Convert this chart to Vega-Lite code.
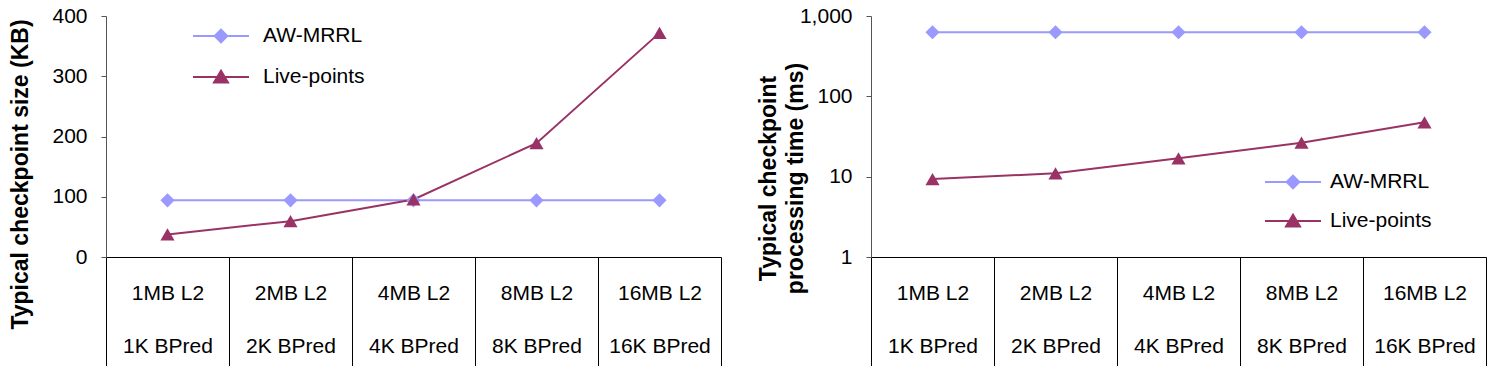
{
  "$schema": "https://vega.github.io/schema/vega-lite/v6.json",
  "padding": {"left": 8, "top": 5, "right": 0, "bottom": 0},
  "background": "white",
  "config": {
    "font": "Liberation Sans",
    "view": {"stroke": null},
    "axis": {"grid": false, "labelColor": "#000", "titleColor": "#000"}
  },
  "data": {
    "values": [
      {"config": "1MB L2|1K BPred", "series": "AW-MRRL", "size": 94, "time": 627},
      {"config": "2MB L2|2K BPred", "series": "AW-MRRL", "size": 94, "time": 627},
      {"config": "4MB L2|4K BPred", "series": "AW-MRRL", "size": 94, "time": 627},
      {"config": "8MB L2|8K BPred", "series": "AW-MRRL", "size": 94, "time": 627},
      {"config": "16MB L2|16K BPred", "series": "AW-MRRL", "size": 94, "time": 627},
      {"config": "1MB L2|1K BPred", "series": "Live-points", "size": 37.5, "time": 9.35},
      {"config": "2MB L2|2K BPred", "series": "Live-points", "size": 59.5, "time": 11.0},
      {"config": "4MB L2|4K BPred", "series": "Live-points", "size": 95.5, "time": 16.9},
      {"config": "8MB L2|8K BPred", "series": "Live-points", "size": 189, "time": 26.5},
      {"config": "16MB L2|16K BPred", "series": "Live-points", "size": 372, "time": 47.5}
    ]
  },
  "resolve": {"scale": {"color": "independent"}, "legend": {"color": "independent"}},
  "spacing": 35,
  "hconcat": [
    {
      "width": 615,
      "height": 241,
      "layer": [
        {
          "mark": {"type": "line", "strokeWidth": 2},
          "encoding": {
            "x": {"field": "config", "type": "nominal", "sort": null,
              "scale": {"paddingInner": 0, "paddingOuter": 0},
              "axis": {"title": null, "labelAngle": 0, "labelExpr": "split(datum.label, '|')",
                "tickBand": "extent", "tickSize": 109, "tickColor": "#000", "domainColor": "#000",
                "labelPadding": -84, "labelLineHeight": 53, "labelFontSize": 21, "labelBaseline": "top"}},
            "y": {"field": "size", "type": "quantitative",
              "scale": {"domain": [0, 400], "nice": false},
              "axis": {"title": "Typical checkpoint size (KB)", "values": [0, 100, 200, 300, 400],
                "tickSize": 5, "tickColor": "#555", "domainColor": "#555",
                "labelFontSize": 21, "labelPadding": 14,
                "titleFontSize": 23, "titleFontWeight": "bold",
                "titleX": -86, "titleY": 158, "titleBaseline": "middle", "titleAngle": -90}},
            "color": {"field": "series", "type": "nominal",
              "scale": {"domain": ["AW-MRRL", "Live-points"], "range": ["#9999FF", "#993366"]},
              "legend": {"title": null, "orient": "none", "legendX": 100, "legendY": 5,
                "padding": 0, "symbolSize": 784, "rowPadding": 15, "labelOffset": 27,
                "labelFontSize": 21, "labelColor": "#000",
                "encode": {"symbols": {"update": {
                  "shape": {"signal": "datum.value === 'AW-MRRL' ? 'M-2,0H2M-0.45,0L0,-0.45L0.45,0L0,0.45Z' : 'M-2,0H2M-0.5,0.4L0,-0.45L0.5,0.4Z'"},
                  "fill": {"signal": "datum.value === 'AW-MRRL' ? '#9999FF' : '#993366'"},
                  "stroke": {"signal": "datum.value === 'AW-MRRL' ? '#9999FF' : '#993366'"},
                  "strokeWidth": {"value": 2},
                  "opacity": {"value": 1},
                  "fillOpacity": {"value": 1}
                }}}}}
          }
        },
        {
          "mark": {"type": "point", "filled": true, "opacity": 1, "size": 200},
          "encoding": {
            "x": {"field": "config", "type": "nominal", "sort": null},
            "y": {"field": "size", "type": "quantitative"},
            "color": {"field": "series", "type": "nominal", "legend": null},
            "shape": {"field": "series", "type": "nominal",
              "scale": {"domain": ["AW-MRRL", "Live-points"], "range": ["diamond", "triangle-up"]},
              "legend": null}
          }
        }
      ]
    },
    {
      "width": 615,
      "height": 241,
      "layer": [
        {
          "mark": {"type": "line", "strokeWidth": 2},
          "encoding": {
            "x": {"field": "config", "type": "nominal", "sort": null,
              "scale": {"paddingInner": 0, "paddingOuter": 0},
              "axis": {"title": null, "labelAngle": 0, "labelExpr": "split(datum.label, '|')",
                "tickBand": "extent", "tickSize": 109, "tickColor": "#000", "domainColor": "#000",
                "labelPadding": -84, "labelLineHeight": 53, "labelFontSize": 21, "labelBaseline": "top"}},
            "y": {"field": "time", "type": "quantitative",
              "scale": {"type": "log", "domain": [1, 1000], "nice": false},
              "axis": {"title": ["Typical checkpoint", "processing time (ms)"], "values": [1, 10, 100, 1000],
                "format": ",", "tickSize": 5, "tickColor": "#555", "domainColor": "#555",
                "labelFontSize": 21, "labelPadding": 14,
                "titleFontSize": 23, "titleFontWeight": "bold", "titleLineHeight": 27,
                "titleX": -103, "titleY": 162, "titleBaseline": "middle", "titleAngle": -90}},
            "color": {"field": "series", "type": "nominal",
              "scale": {"domain": ["AW-MRRL", "Live-points"], "range": ["#9999FF", "#993366"]},
              "legend": {"title": null, "orient": "none", "legendX": 407, "legendY": 151,
                "padding": 0, "symbolSize": 784, "rowPadding": 13, "labelOffset": 22,
                "labelFontSize": 21, "labelColor": "#000",
                "encode": {"symbols": {"update": {
                  "shape": {"signal": "datum.value === 'AW-MRRL' ? 'M-2,0H2M-0.45,0L0,-0.45L0.45,0L0,0.45Z' : 'M-2,0H2M-0.5,0.4L0,-0.45L0.5,0.4Z'"},
                  "fill": {"signal": "datum.value === 'AW-MRRL' ? '#9999FF' : '#993366'"},
                  "stroke": {"signal": "datum.value === 'AW-MRRL' ? '#9999FF' : '#993366'"},
                  "strokeWidth": {"value": 2},
                  "opacity": {"value": 1},
                  "fillOpacity": {"value": 1}
                }}}}}
          }
        },
        {
          "mark": {"type": "point", "filled": true, "opacity": 1, "size": 200},
          "encoding": {
            "x": {"field": "config", "type": "nominal", "sort": null},
            "y": {"field": "time", "type": "quantitative"},
            "color": {"field": "series", "type": "nominal", "legend": null},
            "shape": {"field": "series", "type": "nominal",
              "scale": {"domain": ["AW-MRRL", "Live-points"], "range": ["diamond", "triangle-up"]},
              "legend": null}
          }
        }
      ]
    }
  ]
}
